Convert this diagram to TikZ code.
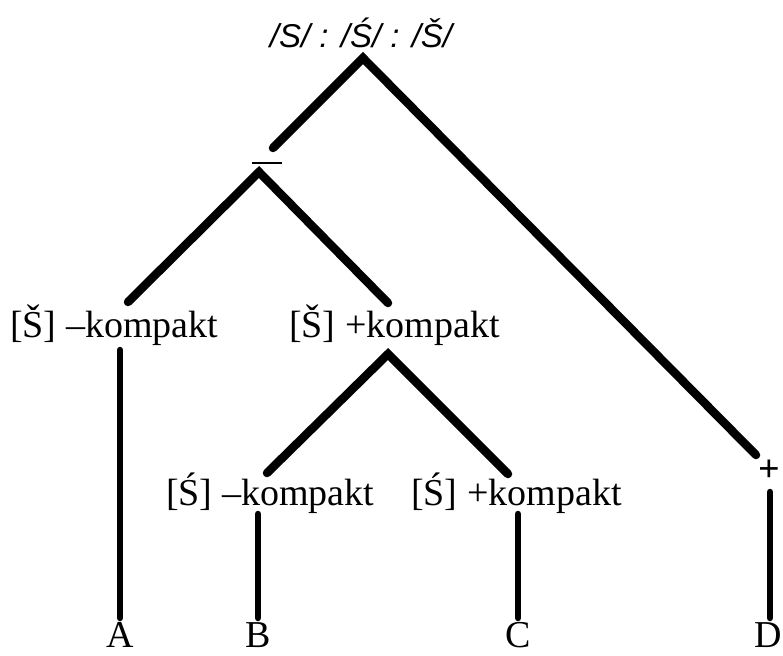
\documentclass[tikz,border=0pt]{standalone}
\usepackage{fontspec}
\setmainfont{Liberation Serif}
\newfontfamily\slashfont{Liberation Sans}

\begin{document}
\begin{tikzpicture} [x=1pt, y=-1pt,
                every node/.style={font=\fontsize{38}{42}\selectfont, inner sep=0pt, anchor=base},
                branch_style/.style={draw=black, line width=8.5pt, line cap=round},
                stem_style/.style={draw=black, line width=6.5pt, line cap=round}]
                \useasboundingbox (0,0) rectangle (783,655);
                % labels
                \node[font=\fontsize{33}{38}\selectfont] (root) at (361,48) {\slashfont\itshape /S/ : /Ś/ : /Š/};
                \node[anchor=base west] (sk) at (10,337) {[Š] –kompakt};
                \node[anchor=base west] (skp) at (289,337) {[Š] +kompakt};
                \node[anchor=base west] (ck) at (166,505) {[Ś] –kompakt};
                \node[anchor=base west] (ckp) at (411,505) {[Ś] +kompakt};
                \node (A) at (120,647) {A};
                \node (B) at (258,647) {B};
                \node (C) at (518,647) {C};
                \node[anchor=base east] (D) at (782,647) {D};
                \node (pos) at (769,481) {\bfseries +};
                \node[anchor=center] (neg) at (267,163) {\rule{30pt}{2.5pt}};
                % branch points and line ends
                \coordinate (r) at (363,58);
                \coordinate (rl) at (273,148);
                \coordinate (rr) at (756,455);
                \coordinate (n) at (259,172);
                \coordinate (nl) at (128,302);
                \coordinate (nr) at (388,303);
                \coordinate (p) at (388,354);
                \coordinate (pl) at (267,473);
                \coordinate (pr) at (508,474);
                \coordinate (a1) at (120,350);
                \coordinate (a2) at (120,618);
                \coordinate (b1) at (258,514);
                \coordinate (b2) at (258,618);
                \coordinate (c1) at (518,514);
                \coordinate (c2) at (518,618);
                \coordinate (d1) at (770,492);
                \coordinate (d2) at (770,618);
                \draw[branch_style] (rl) -- (r) -- (rr);
                \draw[branch_style] (nl) -- (n) -- (nr);
                \draw[branch_style] (pl) -- (p) -- (pr);
                \draw[stem_style] (a1) edge (a2);
                \draw[stem_style] (b1) edge (b2);
                \draw[stem_style] (c1) edge (c2);
                \draw[stem_style] (d1) edge (d2);
            \end{tikzpicture}
\end{document}
